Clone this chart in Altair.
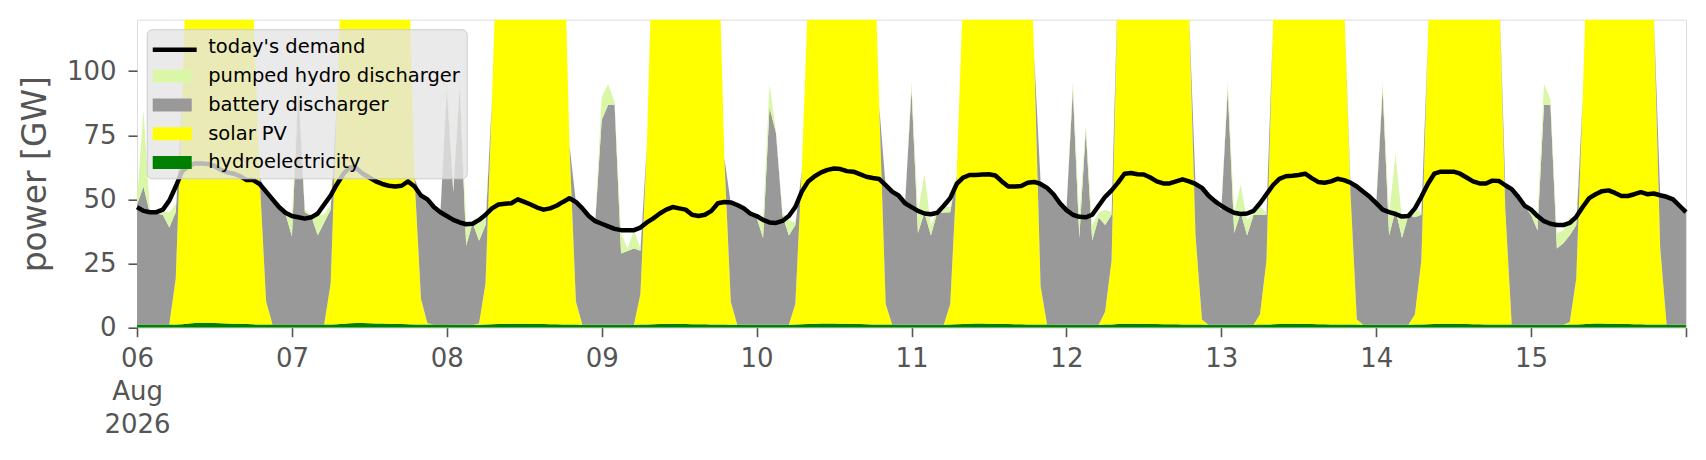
import altair as alt
import pandas as pd

# ---- hourly values (GW), 06 Aug 00:00 ... 16 Aug 00:00 ----
D06 = [47, 45.5, 45, 45, 46, 49.5, 55, 61, 63, 64, 64, 63.8, 63, 61.5, 60.5, 60, 59, 57.5, 57.5, 56, 53, 50, 47, 44.8]
D07 = [43.5, 43, 42.5, 43, 44.5, 48, 51.5, 56, 60, 62.5, 62, 60, 58.5, 57, 56, 55.3, 55, 55.3, 57, 55, 51.5, 50, 47, 45]
D08 = [43.5, 42, 41, 40.3, 40.5, 42, 44, 46.5, 48, 48.3, 48.5, 50, 49, 48, 46.8, 46, 46.5, 47.5, 49, 50.4, 49, 46.5, 43.5, 41.5]
D09 = [40.5, 39.5, 38.5, 38, 38, 38, 39, 41, 42.6, 44.5, 46, 47, 46.5, 46, 44, 43.5, 44, 45.5, 48.5, 49, 48.8, 47.8, 46.5, 44.5]
D10 = [43.5, 42, 41, 40.8, 41.6, 43.5, 47, 53, 57, 59, 60.5, 61.5, 62, 61.8, 61, 60.8, 59.8, 58.8, 58.3, 57.9, 55.5, 53, 51.5, 48.5]
D11 = [47, 45.5, 44.5, 44.2, 44.8, 47.5, 50.5, 56, 58.5, 59.5, 59.5, 59.7, 59.8, 59.3, 57, 55, 55, 55.2, 56.5, 56.8, 56, 54.5, 52, 48.5]
D12 = [45.8, 44, 43.2, 43, 44, 47.5, 51, 53.5, 56.5, 60, 60.3, 59.8, 59.7, 58.5, 57, 56.2, 56.2, 57, 57.8, 57, 56, 54.5, 51.5, 49.3]
D13 = [47.5, 46, 44.8, 44.3, 44.5, 45.5, 48.5, 52, 55.5, 58, 59, 59.2, 59.5, 60, 58.3, 56.8, 56.5, 57, 58, 57.5, 56.5, 55, 53, 51]
D14 = [48.5, 46, 45, 44.3, 43.3, 43.5, 46.5, 51, 56, 60, 60.8, 60.8, 60.8, 60, 58.5, 57, 56.2, 56.2, 57.3, 57.2, 55.5, 54, 51, 47.5]
D15 = [46, 43.5, 41.5, 40.5, 40, 40, 40.8, 43.2, 47, 50.5, 52, 53.2, 53.5, 52.5, 51.3, 51.3, 52, 52.8, 52, 52.3, 51.6, 51, 50, 47.5, 45]

HY06 = [1.2, 1.2, 1.2, 1.2, 1.2, 1.2, 1.2, 1.3, 1.6, 1.8, 1.9, 1.9, 1.8, 1.7, 1.6, 1.5, 1.5, 1.4, 1.3, 1.2, 1.2, 1.2, 1.2, 1.2]
HY07 = [1.2, 1.2, 1.2, 1.2, 1.2, 1.2, 1.2, 1.3, 1.5, 1.7, 1.8, 1.8, 1.7, 1.6, 1.6, 1.5, 1.4, 1.4, 1.3, 1.2, 1.2, 1.2, 1.2, 1.2]
HY08 = [1.2, 1.1, 1.1, 1.1, 1.1, 1.1, 1.2, 1.3, 1.4, 1.5, 1.5, 1.5, 1.5, 1.4, 1.4, 1.4, 1.3, 1.3, 1.2, 1.2, 1.2, 1.1, 1.1, 1.1]
HY09 = [1.1, 1.1, 1.1, 1.1, 1.1, 1.1, 1.2, 1.2, 1.3, 1.4, 1.5, 1.5, 1.4, 1.4, 1.3, 1.3, 1.3, 1.2, 1.2, 1.2, 1.1, 1.1, 1.1, 1.1]
HY10 = [1.1, 1.1, 1.1, 1.1, 1.1, 1.1, 1.2, 1.3, 1.4, 1.5, 1.6, 1.6, 1.6, 1.5, 1.5, 1.4, 1.4, 1.3, 1.2, 1.2, 1.2, 1.2, 1.1, 1.1]
HY11 = [1.1, 1.1, 1.1, 1.1, 1.1, 1.1, 1.2, 1.3, 1.4, 1.5, 1.6, 1.6, 1.5, 1.5, 1.4, 1.4, 1.3, 1.3, 1.2, 1.2, 1.2, 1.2, 1.1, 1.1]
HY12 = [1.1, 1.1, 1.1, 1.1, 1.1, 1.1, 1.2, 1.2, 1.4, 1.5, 1.5, 1.5, 1.5, 1.4, 1.4, 1.3, 1.3, 1.3, 1.2, 1.2, 1.2, 1.2, 1.1, 1.1]
HY13 = [1.1, 1.1, 1.1, 1.1, 1.1, 1.1, 1.2, 1.2, 1.3, 1.4, 1.5, 1.5, 1.5, 1.4, 1.4, 1.3, 1.3, 1.2, 1.2, 1.2, 1.2, 1.2, 1.1, 1.1]
HY14 = [1.1, 1.1, 1.1, 1.1, 1.1, 1.1, 1.2, 1.2, 1.3, 1.4, 1.5, 1.5, 1.5, 1.4, 1.4, 1.3, 1.3, 1.2, 1.2, 1.2, 1.2, 1.2, 1.1, 1.1]
HY15 = [1.1, 1.1, 1.1, 1.1, 1.1, 1.1, 1.2, 1.2, 1.3, 1.5, 1.6, 1.6, 1.5, 1.5, 1.4, 1.4, 1.3, 1.3, 1.2, 1.2, 1.2, 1.2, 1.1, 1.1, 1.1]

S06 = [0, 0, 0, 0, 0, 0, 18, 88, 170, 230, 270, 290, 300, 295, 280, 255, 225, 200, 125, 57, 9, 0, 0, 0]
S07 = [0, 0, 0, 0, 0, 0, 16, 88, 165, 225, 265, 285, 295, 290, 275, 250, 220, 200, 150, 57, 10, 0.5, 0, 0]
S08 = [0, 0, 0, 0, 0, 0.5, 16, 88, 165, 230, 270, 290, 300, 295, 280, 255, 225, 205, 170, 70, 9, 0, 0, 0]
S09 = [0, 0, 0, 0, 0, 0, 12, 70, 160, 220, 260, 280, 290, 285, 270, 245, 215, 195, 160, 65, 9, 0, 0, 0]
S10 = [0, 0, 0, 0, 0, 0, 8, 60, 130, 200, 250, 275, 285, 280, 265, 240, 215, 195, 165, 85, 8, 0, 0, 0]
S11 = [0, 0, 0, 0, 0, 0, 8, 58, 130, 200, 250, 275, 285, 285, 270, 250, 230, 210, 180, 105, 15, 0, 0, 0]
S12 = [0, 0, 0, 0, 0, 0, 5, 25, 135, 200, 245, 270, 280, 280, 270, 250, 230, 215, 200, 122, 35, 2, 0, 0]
S13 = [0, 0, 0, 0, 0, 0, 4, 25, 115, 200, 245, 270, 280, 280, 275, 260, 240, 225, 210, 128, 52, 2, 0, 0]
S14 = [0, 0, 0, 0, 0, 0, 4, 25, 110, 190, 240, 265, 275, 280, 275, 260, 245, 230, 220, 135, 45, 0, 0, 0]
S15 = [0, 0, 0, 0, 0, 0, 1, 18, 88, 170, 230, 260, 275, 280, 275, 265, 250, 230, 200, 122, 30, 0, 0, 0, 0]

B06 = [46.8, 53.8, 43.3, 43.3, 42.8, 37.8, 25.8, 0, 0, 0, 0, 0, 0, 0, 0, 0, 0, 0, 0, 0.3, 42.8, 48.3, 45.3, 43.3]
B07 = [34.3, 90.8, 43.8, 42.3, 34.8, 39.8, 28.8, 0, 0, 0, 0, 0, 0, 0, 0, 0, 0, 0, 0, 0, 40.3, 47.8, 45.8, 43.3]
B08 = [91.8, 51.8, 92.8, 30.8, 39.8, 32.3, 22.8, 0, 0, 0, 0, 0, 0, 0, 0, 0, 0, 0, 0, 0, 38.8, 45.3, 42.3, 40.3]
B09 = [79.8, 85.8, 85.8, 27.8, 28.8, 29.8, 16.8, 0, 0, 0, 0, 0, 0, 0, 0, 0, 0, 0, 0, 0, 38.3, 46.6, 45.3, 43.3]
B10 = [41.8, 33.8, 84.8, 74.8, 42.8, 34.8, 30.8, 0, 0, 0, 0, 0, 0, 0, 0, 0, 0, 0, 0, 0, 45.8, 51.8, 50.3, 47.3]
B11 = [91.8, 35.8, 43.8, 34.8, 43.8, 43.8, 35.8, 0, 0, 0, 0, 0, 0, 0, 0, 0, 0, 0, 0, 0, 40.8, 52.8, 50.3, 46.8]
B12 = [44.8, 91.8, 33.8, 75.8, 32.8, 41.8, 33.8, 17.8, 0, 0, 0, 0, 0, 0, 0, 0, 0, 0, 0, 0, 19.8, 51.3, 50.3, 47.8]
B13 = [44.8, 91.8, 35.8, 43.8, 34.8, 42.8, 38.8, 17.8, 0, 0, 0, 0, 0, 0, 0, 0, 0, 0, 0, 0, 3.3, 51.8, 51.8, 49.8]
B14 = [46.8, 91.8, 34.8, 44.8, 33.8, 42.8, 37.8, 17.8, 0, 0, 0, 0, 0, 0, 0, 0, 0, 0, 0, 0, 9.3, 52.3, 49.8, 46.3]
B15 = [42.8, 36.8, 85.8, 85.8, 29.8, 31.8, 33.8, 20.8, 0, 0, 0, 0, 0, 0, 0, 0, 0, 0, 0, 0, 20.8, 49.3, 48.3, 45.8, 43.8]

P06 = [2, 30, 0.5, 0.5, 1.5, 6, 3, 0, 0, 0, 0, 0, 0, 0, 0, 0, 0, 0, 0, 0, 0, 0.5, 0.5, 0.5]
P07 = [7.5, 4, 1, 0.5, 8, 3, 2, 0, 0, 0, 0, 0, 0, 0, 0, 0, 0, 0, 0, 0, 0, 0.5, 0, 0.5]
P08 = [3, 1, 3, 8.5, 0.5, 7, 3, 0, 0, 0, 0, 0, 0, 0, 0, 0, 0, 0, 0, 0, 0, 0.5, 0.5, 0.5]
P09 = [9, 8, 1, 8, 1, 7, 1, 0, 0, 0, 0, 0, 0, 0, 0, 0, 0, 0, 0, 0, 0, 0, 0.5, 0.5]
P10 = [0.5, 7.5, 9, 1, 1, 6, 1, 0, 0, 0, 0, 0, 0, 0, 0, 0, 0, 0, 0, 0, 0, 0, 0, 0]
P11 = [3, 8, 15, 4, 1, 2, 2, 0, 0, 0, 0, 0, 0, 0, 0, 0, 0, 0, 0, 0, 0, 0, 0, 0.5]
P12 = [0.5, 3, 8, 2, 6, 2, 6, 1, 0, 0, 0, 0, 0, 0, 0, 0, 0, 0, 0, 0, 0, 0, 0, 0.5]
P13 = [1, 3, 8, 11, 6, 1, 3, 1, 0, 0, 0, 0, 0, 0, 0, 0, 0, 0, 0, 0, 0, 0, 0, 0]
P14 = [0.5, 3, 8, 22, 7, 1, 3, 1, 0, 0, 0, 0, 0, 0, 0, 0, 0, 0, 0, 0, 0, 0, 0, 0]
P15 = [2, 6, 8, 2, 6, 5, 7, 2, 0, 0, 0, 0, 0, 0, 0, 0, 0, 0, 0, 0, 0, 0.5, 0.5, 0.5, 0.5]

demand = D06 + D07 + D08 + D09 + D10 + D11 + D12 + D13 + D14 + D15
hydro = HY06 + HY07 + HY08 + HY09 + HY10 + HY11 + HY12 + HY13 + HY14 + HY15
solar = S06 + S07 + S08 + S09 + S10 + S11 + S12 + S13 + S14 + S15
battery = B06 + B07 + B08 + B09 + B10 + B11 + B12 + B13 + B14 + B15
pumped = P06 + P07 + P08 + P09 + P10 + P11 + P12 + P13 + P14 + P15

SERIES = ["hydroelectricity", "solar PV", "battery discharger", "pumped hydro discharger"]
LEGEND_NAMES = ["today's demand", "pumped hydro discharger", "battery discharger", "solar PV", "hydroelectricity"]
LEGEND_COLORS = ["rgba(0,0,0,0)", "#d9f7a7", "#999999", "#ffff00", "#008000"]
DAY_TICKS = [6, 7, 8, 9, 10, 11, 12, 13, 14, 15, 16]

times = pd.date_range("2026-08-06 00:00", periods=len(demand), freq="h").strftime("%Y-%m-%dT%H:%M:%SZ")

frames = []
for k, (name, vals) in enumerate(zip(SERIES, [hydro, solar, battery, pumped])):
    frames.append(pd.DataFrame({"time": list(times), "value": vals, "series": name, "order": k + 1}))
area_df = pd.concat(frames, ignore_index=True)
demand_df = pd.DataFrame({"time": list(times), "value": demand, "label": "today's demand"})

FONT = "DejaVu Sans"
GREY = "#555555"

x_scale = alt.Scale(
    type="utc",
    domain=[alt.DateTime(year=2026, month=8, date=6, hours=0, utc=True),
            alt.DateTime(year=2026, month=8, date=16, hours=0, utc=True)],
    nice=False,
)
x_axis = alt.Axis(
    values=[alt.DateTime(year=2026, month=8, date=d, hours=0, utc=True) for d in DAY_TICKS],
    labelExpr="utcFormat(datum.value, '%d') == '06' ? [utcFormat(datum.value, '%d'), utcFormat(datum.value, '%b'), utcFormat(datum.value, '%Y')] : (utcFormat(datum.value, '%d') == '16' ? '' : utcFormat(datum.value, '%d'))",
    labelFlush=False, labelOverlap=False, labelBound=False,
    labelFont=FONT, labelFontSize=26, labelColor=GREY, labelLineHeight=33, labelPadding=9,
    tickSize=9, tickWidth=1.6, tickColor=GREY, domain=False, grid=False,
)
y_scale = alt.Scale(domain=[0, 120], nice=False, zero=True)
y_axis = alt.Axis(
    values=[0, 25, 50, 75, 100],
    labelFont=FONT, labelFontSize=26, labelColor=GREY, labelPadding=12,
    tickSize=9, tickWidth=1.6, tickColor=GREY, domain=False, grid=False,
    title="power [GW]", titleFont=FONT, titleFontSize=33, titleFontWeight="normal",
    titleColor=GREY, titleAngle=270, titleX=-102, titleY=154, titleAlign="center", titleBaseline="middle",
)

areas = alt.Chart(area_df).mark_area(clip=True, interpolate="linear").encode(
    x=alt.X("time:T", scale=x_scale, axis=x_axis, title=None),
    y=alt.Y("value:Q", stack="zero", scale=y_scale, axis=y_axis),
    color=alt.Color(
        "series:N",
        scale=alt.Scale(domain=LEGEND_NAMES, range=LEGEND_COLORS),
        title=None,
        legend=alt.Legend(
            orient="none", legendX=9.7, legendY=9.6,
            symbolType="M-1.625,-0.5417H1.625V0.5417H-1.625Z", symbolSize=576,
            symbolStrokeWidth=0, symbolOffset=7.5, symbolOpacity=1,
            labelOffset=24, labelFont=FONT, labelFontSize=19.5, labelColor="#000000", labelLimit=400,
            padding=6, rowPadding=6.8,
            fillColor="rgba(229,229,229,0.8)", strokeColor="#cccccc", cornerRadius=5,
            zindex=1,
        ),
    ),
    order=alt.Order("order:Q", sort="ascending"),
)

line = alt.Chart(demand_df).mark_line(strokeWidth=4.5, strokeJoin="round").encode(
    x=alt.X("time:T", scale=x_scale, axis=x_axis, title=None),
    y=alt.Y("value:Q", scale=y_scale, axis=y_axis),
    stroke=alt.Stroke(
        "label:N",
        scale=alt.Scale(domain=["today's demand"], range=["#000000"]),
        title=None,
        legend=alt.Legend(
            orient="none", legendX=9.7, legendY=9.6,
            symbolType="M-1.83,0H1.83", symbolSize=576, symbolStrokeWidth=4.5,
            symbolOffset=7.5, symbolOpacity=1,
            labelExpr="''", labelFontSize=19.5, labelFont=FONT,
            padding=6, rowPadding=6.8, zindex=2,
        ),
    ),
)

chart = alt.layer(areas, line).properties(
    width=1549, height=308,
    padding={"left": 129, "top": 11.7, "right": 12, "bottom": 125},
    autosize=alt.AutoSizeParams(type="none"),
).configure_view(stroke=None).configure(font=FONT)

chart.save("out.html", embed_options={"renderer": "svg", "actions": False})
